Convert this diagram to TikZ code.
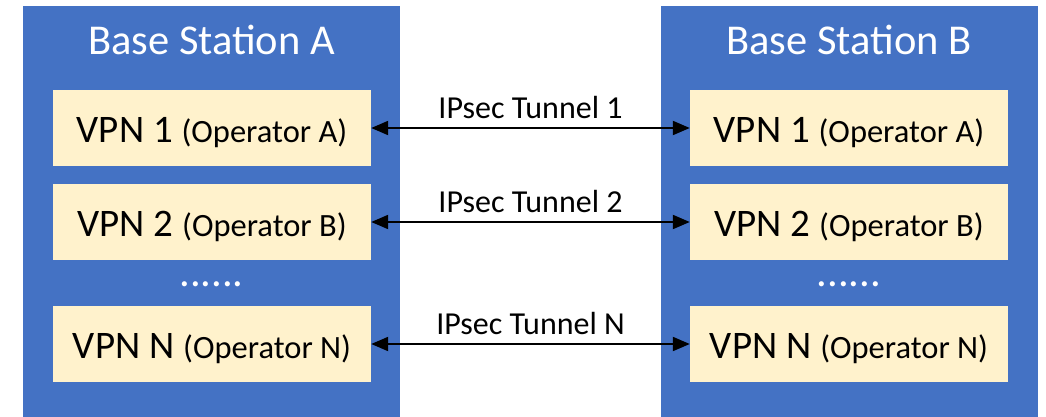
\documentclass[tikz,border=0pt]{standalone}
\usepackage{fontspec}
\setmainfont{Carlito}
\usetikzlibrary{arrows.meta}
\definecolor{stationblue}{HTML}{4472C4}
\definecolor{vpnyellow}{HTML}{FFF2CC}
\tikzset{
	station/.style={fill=stationblue, draw=none, minimum width=377pt, minimum height=411pt, inner sep=0pt},
	title/.style={text=white, anchor=base, inner sep=0pt, font=\fontsize{42.5}{50}\selectfont},
	vpn/.style={fill=vpnyellow, draw=none, minimum width=318pt, minimum height=76pt, inner sep=0pt,
			text height=29.4pt, text depth=0pt, font=\fontsize{39}{46}\selectfont},
	tunnel/.style={{Triangle[length=17pt,width=14pt]}-{Triangle[length=17pt,width=14pt]}, line width=2pt},
	label/.style={midway, anchor=base, yshift=9.5pt, inner sep=0pt, font=\fontsize{32}{38}\selectfont}
}
\newcommand{\oper}[1]{{\fontsize{32.5}{38}\selectfont(Operator #1)}}

\begin{document}
\begin{tikzpicture}[x=1pt, y=-1pt]
	\useasboundingbox (0, 0) rectangle (1046, 417);

	% the two base stations
	\node[station] (stationA) at (211.5, 211.5) {};
	\node[station] (stationB) at (849, 211.5) {};
	\node[title] (titleA) at (211.5, 55) {Base Station A};
	\node[title] (titleB) at (849, 55) {Base Station B};

	% VPNs inside each station
	\node[vpn] (vpnA1) at (212, 128) {VPN 1 \oper{A}};
	\node[vpn] (vpnA2) at (212, 222) {VPN 2 \oper{B}};
	\node[vpn] (vpnAN) at (212, 344) {VPN N \oper{N}};
	\node[vpn] (vpnB1) at (849, 128) {VPN 1 \oper{A}};
	\node[vpn] (vpnB2) at (849, 222) {VPN 2 \oper{B}};
	\node[vpn] (vpnBN) at (849, 344) {VPN N \oper{N}};

	\node[title] (dotsA) at (211.5, 286) {......};
	\node[title] (dotsB) at (849, 286) {......};

	% tunnels
	\draw[tunnel]	(vpnA1.east) -- (vpnB1.west) node[label]{IPsec Tunnel 1};
	\draw[tunnel]	(vpnA2.east) -- (vpnB2.west) node[label]{IPsec Tunnel 2};
	\draw[tunnel]	(vpnAN.east) -- (vpnBN.west) node[label]{IPsec Tunnel N};
\end{tikzpicture}
\end{document}
